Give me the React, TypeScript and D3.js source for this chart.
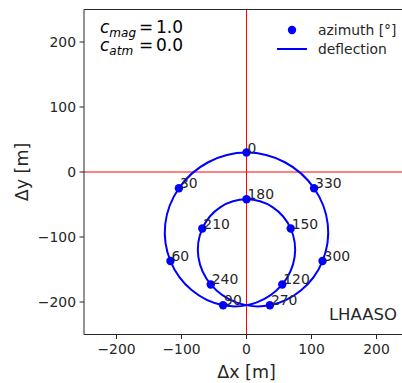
import React, { useEffect, useRef } from "react";
import * as d3 from "d3";

const azimuths = [0, 15, 30, 45, 60, 75, 90, 105, 120, 135, 150, 165, 180, 195, 210, 225, 240, 255, 270, 285, 300, 315, 330, 345];
const deflectionX = [0, -59, -104, -125, -117, -84, -36, 15, 55, 74, 68, 40, 0, -40, -68, -74, -55, -15, 36, 84, 117, 125, 104, 59];
const deflectionY = [30, 15, -25, -80, -137, -182, -205, -201, -173, -131, -87, -54, -42, -54, -87, -131, -173, -201, -205, -182, -137, -80, -25, 15];

const xTicks = [-200, -100, 0, 100, 200];
const yTicks = [-200, -100, 0, 100, 200];

const FONT = "DejaVu Sans, sans-serif";
const BLUE = "#0000ff";
const INK = "#262626";

const App = () => {
  const svgRef = useRef(null);

  useEffect(() => {
    const svg = d3.select(svgRef.current);
    svg.selectAll("*").remove();

    // plot box (the right part falls outside the window, as in the picture)
    const left = 84;
    const top = 9.5;
    const size = 325;

    const x = d3.scaleLinear().domain([-250, 250]).range([left, left + size]);
    const y = d3.scaleLinear().domain([-250, 250]).range([top + size, top]);

    const points = azimuths.map((az, i) => ({ az, x: deflectionX[i], y: deflectionY[i] }));
    const markers = points.filter((d) => d.az % 30 === 0);

    // red zero lines
    svg.append("line")
      .attr("x1", x(0)).attr("x2", x(0))
      .attr("y1", top).attr("y2", top + size)
      .attr("stroke", "#ff0000").attr("stroke-width", 1);
    svg.append("line")
      .attr("x1", left).attr("x2", left + size)
      .attr("y1", y(0)).attr("y2", y(0))
      .attr("stroke", "#ff0000").attr("stroke-width", 1);

    // deflection curve
    const line = d3.line()
      .x((d) => x(d.x))
      .y((d) => y(d.y))
      .curve(d3.curveCatmullRomClosed.alpha(0.5));
    svg.append("path")
      .attr("d", line(points))
      .attr("fill", "none")
      .attr("stroke", BLUE)
      .attr("stroke-width", 2);

    // azimuth markers
    svg.selectAll(".dot")
      .data(markers)
      .enter()
      .append("circle")
      .attr("cx", (d) => x(d.x))
      .attr("cy", (d) => y(d.y))
      .attr("r", 4.2)
      .attr("fill", BLUE);

    svg.selectAll(".az-label")
      .data(markers)
      .enter()
      .append("text")
      .attr("x", (d) => x(d.x) + 1)
      .attr("y", (d) => y(d.y))
      .attr("font-family", FONT)
      .attr("font-size", 13.9)
      .attr("fill", INK)
      .text((d) => d.az);

    // axes frame
    const frame = svg.append("g").attr("stroke", INK).attr("stroke-width", 1).attr("fill", "none");
    frame.append("line").attr("x1", left).attr("x2", left).attr("y1", top).attr("y2", top + size);
    frame.append("line").attr("x1", left).attr("x2", left + size).attr("y1", top).attr("y2", top);
    frame.append("line").attr("x1", left).attr("x2", left + size).attr("y1", top + size).attr("y2", top + size);
    frame.append("line").attr("x1", left + size).attr("x2", left + size).attr("y1", top).attr("y2", top + size);

    // x ticks
    xTicks.forEach((t) => {
      svg.append("line")
        .attr("x1", x(t)).attr("x2", x(t))
        .attr("y1", top + size).attr("y2", top + size + 4.5)
        .attr("stroke", INK);
      svg.append("text")
        .attr("x", x(t))
        .attr("y", top + size + 19)
        .attr("text-anchor", "middle")
        .attr("font-family", FONT)
        .attr("font-size", 13.9)
        .attr("fill", INK)
        .text(t < 0 ? "\u2212" + Math.abs(t) : String(t));
    });

    // y ticks
    yTicks.forEach((t) => {
      svg.append("line")
        .attr("x1", left - 4.5).attr("x2", left)
        .attr("y1", y(t)).attr("y2", y(t))
        .attr("stroke", INK);
      svg.append("text")
        .attr("x", left - 8)
        .attr("y", y(t) + 5)
        .attr("text-anchor", "end")
        .attr("font-family", FONT)
        .attr("font-size", 13.9)
        .attr("fill", INK)
        .text(t < 0 ? "\u2212" + Math.abs(t) : String(t));
    });

    // axis labels
    svg.append("text")
      .attr("x", x(0))
      .attr("y", 378)
      .attr("text-anchor", "middle")
      .attr("font-family", FONT)
      .attr("font-size", 17.5)
      .attr("fill", INK)
      .text("\u0394x [m]");
    svg.append("text")
      .attr("transform", `translate(28,${y(0)}) rotate(-90)`)
      .attr("text-anchor", "middle")
      .attr("font-family", FONT)
      .attr("font-size", 17.5)
      .attr("fill", INK)
      .text("\u0394y [m]");

    // coefficient text
    const coeffs = [
      { sub: "mag", value: "1.0", base: 33 },
      { sub: "atm", value: "0.0", base: 51 },
    ];
    coeffs.forEach((c) => {
      const t = svg.append("text")
        .attr("x", 100)
        .attr("y", c.base)
        .attr("font-family", FONT)
        .attr("font-size", 17)
        .attr("fill", "#000");
      t.append("tspan").attr("font-style", "italic").text("c");
      t.append("tspan")
        .attr("font-style", "italic")
        .attr("font-size", 12)
        .attr("dy", 3.5)
        .text(c.sub);
      svg.append("text")
        .attr("x", 139)
        .attr("y", c.base)
        .attr("font-family", FONT)
        .attr("font-size", 17)
        .attr("fill", "#000")
        .text("=");
      svg.append("text")
        .attr("x", 156)
        .attr("y", c.base)
        .attr("font-family", FONT)
        .attr("font-size", 17)
        .attr("fill", "#000")
        .text(c.value);
    });

    // legend (no frame)
    svg.append("circle").attr("cx", 292).attr("cy", 30).attr("r", 4.2).attr("fill", BLUE);
    svg.append("text")
      .attr("x", 318).attr("y", 35)
      .attr("font-family", FONT).attr("font-size", 13.9).attr("fill", INK)
      .text("azimuth [\u00b0]");
    svg.append("line")
      .attr("x1", 277).attr("x2", 307).attr("y1", 49).attr("y2", 49)
      .attr("stroke", BLUE).attr("stroke-width", 2);
    svg.append("text")
      .attr("x", 318).attr("y", 54)
      .attr("font-family", FONT).attr("font-size", 13.9).attr("fill", INK)
      .text("deflection");

    // site name
    svg.append("text")
      .attr("x", 397).attr("y", 320)
      .attr("text-anchor", "end")
      .attr("font-family", FONT).attr("font-size", 16.5).attr("fill", INK)
      .text("LHAASO");

    return () => {
      svg.selectAll("*").remove();
    };
  }, []);

  return (
    <svg
      ref={svgRef}
      width={402}
      height={383}
      style={{ position: "absolute", left: 0, top: 0, background: "#fff" }}
    ></svg>
  );
};

export default App;
